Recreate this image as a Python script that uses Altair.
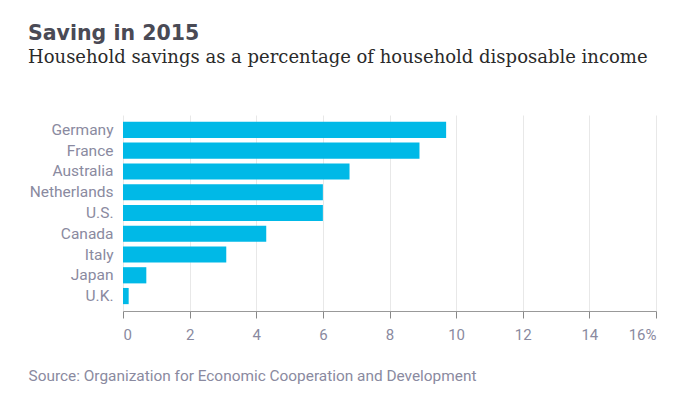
import altair as alt
import pandas as pd

countries = ["Germany", "France", "Australia", "Netherlands", "U.S.", "Canada", "Italy", "Japan", "U.K."]
savings = [9.7, 8.9, 6.8, 6.0, 6.0, 4.3, 3.1, 0.7, 0.17]
x_ticks = [0, 2, 4, 6, 8, 10, 12, 14, 16]

df = pd.DataFrame({"country": countries, "saving": savings})

label_color = "#8a8aa0"
font = "Roboto"

chart = alt.Chart(df).mark_bar(color="#00B9E7").encode(
    x=alt.X(
        "saving:Q",
        scale=alt.Scale(domain=[0, 16], nice=False),
        axis=alt.Axis(
            values=x_ticks,
            labelExpr="datum.value == 16 ? '16%' : datum.label",
            grid=True,
            gridColor="#e8e8e8",
            domainColor="#999999",
            tickColor="#888888",
            tickSize=7,
            labelColor=label_color,
            labelFont=font,
            labelFontSize=15,
            labelPadding=9,
            title="Source: Organization for Economic Cooperation and Development",
            titleFont=font,
            titleFontSize=15.4,
            titleFontWeight="normal",
            titleColor=label_color,
            titleAlign="left",
            titleAnchor="start",
            titleX=-95,
            titleY=57,
        ),
    ),
    y=alt.Y(
        "country:N",
        sort=countries,
        scale=alt.Scale(paddingInner=0.22, paddingOuter=0.33),
        axis=alt.Axis(
            title=None,
            domain=False,
            ticks=False,
            labelColor=label_color,
            labelFont=font,
            labelFontSize=15.5,
            labelPadding=10,
        ),
    ),
).properties(
    width=533,
    height=196,
    padding={"left": 20, "top": 15, "right": 20, "bottom": 10},
    title=alt.TitleParams(
        text="Saving in 2015",
        subtitle="Household savings as a percentage of household disposable income",
        anchor="start",
        font="DejaVu Sans",
        fontSize=20.5,
        fontWeight="bold",
        color="#4a4a55",
        subtitleFont="DejaVu Serif",
        subtitleFontSize=18,
        subtitleColor="#2a2a2a",
        subtitlePadding=5,
        offset=48,
    ),
).configure_view(stroke=None)

chart.save("out.html", embed_options={"renderer": "svg", "actions": False})
